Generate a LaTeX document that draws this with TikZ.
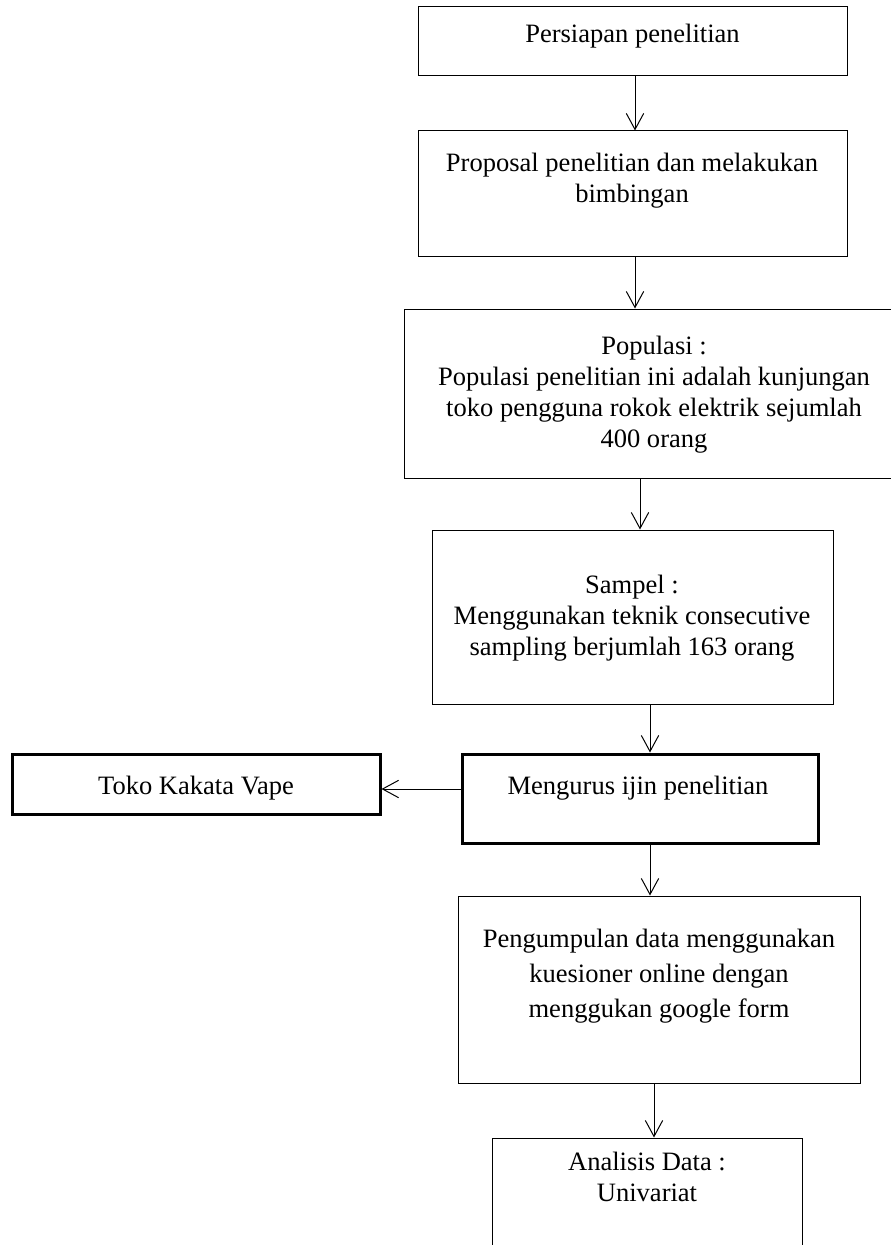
\documentclass[tikz,border=0pt]{standalone}
\usepackage{fontspec}
\setmainfont{Liberation Serif}
\usetikzlibrary{arrows.meta,fit}

\tikzset{every picture/.style={line width=0.75pt}}
\tikzset{
  box/.style={draw, rectangle, inner sep=0pt},
  boldbox/.style={box, line width=2.25pt},
  txt/.style={inner sep=0.75pt, align=center, font=\fontsize{19.9}{23.3}\selectfont},
  widetxt/.style={txt, font=\fontsize{19.9}{26.3}\selectfont},
  arr/.style={-{Straight Barb[length=12pt,width=13pt]}},
}

\begin{document}
\begin{tikzpicture}[x=0.75pt,y=0.75pt,yscale=-1,xscale=1]
\useasboundingbox (0,0) rectangle (891,1245);

%Shape: Rectangle [persiapan]
\node [box, fit={(418,7) (847,76)}] (persiapan) {};
%Shape: Rectangle [proposal]
\node [box, fit={(418,131) (847,256)}] (proposal) {};
%Shape: Rectangle [populasi]
\node [box, fit={(404,309) (904,478)}] (populasi) {};
%Shape: Rectangle [sampel]
\node [box, fit={(432,530) (833,704)}] (sampel) {};
%Shape: Rectangle [ijin]
\node [boldbox, fit={(462,754) (818,843)}] (ijin) {};
%Shape: Rectangle [toko]
\node [boldbox, fit={(12,754) (380,814)}] (toko) {};
%Shape: Rectangle [pengumpulan]
\node [box, fit={(458,896) (860,1083)}] (pengumpulan) {};
%Shape: Rectangle [analisis]
\node [box, fit={(492,1138) (802,1300)}] (analisis) {};

%Straight Lines
\coordinate (colA) at (635,0);
\coordinate (colB) at (640,0);
\coordinate (colC) at (650,0);
\coordinate (colD) at (654,0);
\coordinate (rowA) at (0,789);
\draw [arr] (persiapan.south -| colA) -- (proposal.north -| colA);
\draw [arr] (proposal.south -| colA) -- (populasi.north -| colA);
\draw [arr] (populasi.south -| colB) -- (sampel.north -| colB);
\draw [arr] (sampel.south -| colC) -- (ijin.north -| colC);
\draw [arr] (ijin.west |- rowA) -- (toko.east |- rowA);
\draw [arr] (ijin.south -| colC) -- (pengumpulan.north -| colC);
\draw [arr] (pengumpulan.south -| colD) -- (analisis.north -| colD);

% Text Node
\node [txt] (persiapanText) at (632.5,36) {Persiapan penelitian};
% Text Node
\node [txt] (proposalText) at (632,181) {Proposal penelitian dan melakukan\\bimbingan};
% Text Node
\node [txt] (populasiText) at (654,395) {Populasi :\\Populasi penelitian ini adalah kunjungan\\toko pengguna rokok elektrik sejumlah\\400 orang};
% Text Node
\node [txt] (sampelText) at (632,618) {Sampel :\\Menggunakan teknik consecutive\\sampling berjumlah 163 orang};
% Text Node
\node [txt] (ijinText) at (638,788) {Mengurus ijin penelitian};
% Text Node
\node [txt] (tokoText) at (196,788) {Toko Kakata Vape};
% Text Node
\node [widetxt] (pengumpulanText) at (659,976) {Pengumpulan data menggunakan\\kuesioner online dengan\\menggukan google form};
% Text Node
\node [txt] (analisisText) at (647,1177) {Analisis Data :\\Univariat};

\end{tikzpicture}
\end{document}
